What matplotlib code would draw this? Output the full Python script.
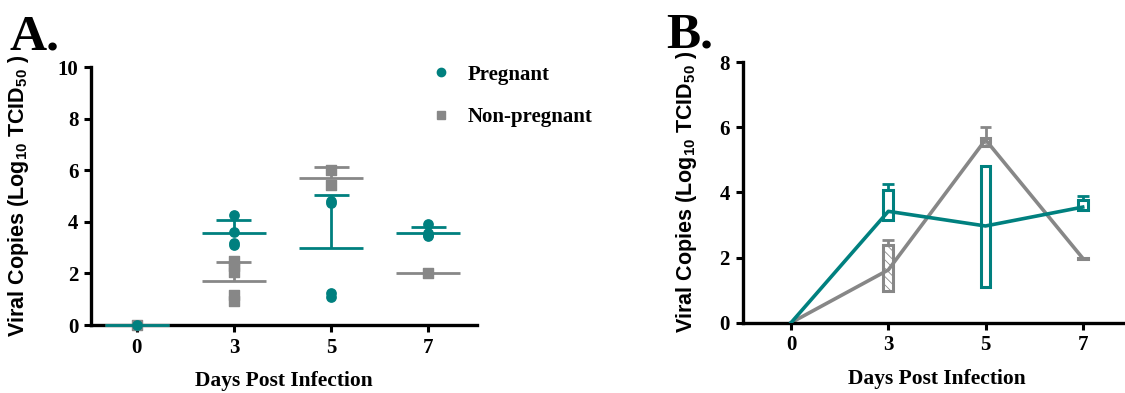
import numpy as np
import matplotlib.pyplot as plt
from matplotlib.lines import Line2D

# ======================================================
# DATI
# ======================================================
days = ["0", "3", "5", "7"]

# panel A - single animals (index of day, value)
preg_day = [0, 1, 1, 1, 1, 2, 2, 2, 2, 3, 3, 3, 3]
preg_val = [0, 4.25, 3.6, 3.2, 3.1, 4.8, 4.75, 1.25, 1.1, 3.9, 3.55, 3.5, 3.45]
nonp_day = [0, 1, 1, 1, 1, 1, 2, 2, 3]
nonp_val = [0, 2.5, 2.3, 2.05, 1.15, 0.95, 6.0, 5.45, 2.0]

# panel A - mean and upper SD
preg_mean = [0, 3.57, 2.97, 3.58]
preg_sd = [0, 0.50, 2.08, 0.22]
nonp_mean = [0, 1.70, 5.70, 2.00]
nonp_sd = [0, 0.73, 0.42, 0]

# panel B - mean line, box (low/high) and whisker top
preg_line = [0, 3.42, 2.97, 3.55]
preg_lo = [0, 3.15, 1.10, 3.46]
preg_hi = [0, 4.08, 4.82, 3.78]
preg_cap = [0, 4.26, 4.82, 3.88]
nonp_line = [0, 1.62, 5.62, 1.98]
nonp_lo = [0, 0.97, 5.42, 1.96]
nonp_hi = [0, 2.40, 5.66, 2.00]
nonp_cap = [0, 2.53, 6.00, 2.00]

TEAL = "#00807f"
GREY = "#878787"
SERIF = "Liberation Serif"
SANS = "Liberation Sans"

plt.rcParams["mathtext.default"] = "regular"
plt.rcParams["hatch.linewidth"] = 0.6

fig = plt.figure(figsize=(11.25, 3.93), dpi=100)
axA = fig.add_axes([0.0809, 0.173, 0.343, 0.656])
axB = fig.add_axes([0.660, 0.179, 0.3456, 0.6626])


def stile_assi(ax, ymax, ystep, ylab_x):
    x = np.arange(len(days))
    ax.set_xticks(x)
    ax.set_xticklabels(days)
    ax.set_yticks(np.arange(0, ymax + 0.1, ystep))
    ax.set_ylim(0, ymax)
    for s in ["top", "right"]:
        ax.spines[s].set_visible(False)
    for s in ["left", "bottom"]:
        ax.spines[s].set_linewidth(2.4)
    ax.tick_params(width=2.2, length=5, labelsize=15, pad=4)
    for lab in ax.get_xticklabels() + ax.get_yticklabels():
        lab.set_fontfamily(SERIF)
        lab.set_fontweight("bold")
    ax.set_xlabel("Days Post Infection", fontfamily=SERIF, fontweight="bold",
                  fontsize=15.5, labelpad=10)
    ax.set_ylabel("Viral Copies (Log$_{10}$ TCID$_{50}$ )", fontfamily=SANS,
                  fontweight="bold", fontsize=15.5)
    ax.yaxis.set_label_coords(ylab_x, 0.5)


# ======================================================
# PANNELLO A
# ======================================================
def media_sd(ax, mean, sd, color, z):
    for i, (m, s) in enumerate(zip(mean, sd)):
        ax.hlines(m, i - 0.33, i + 0.33, color=color, lw=2, zorder=z, clip_on=False)
        if s > 0:
            ax.vlines(i, m, m + s, color=color, lw=2, zorder=z)
            ax.hlines(m + s, i - 0.18, i + 0.18, color=color, lw=2, zorder=z)


media_sd(axA, nonp_mean, nonp_sd, GREY, 3)
axA.scatter(nonp_day, nonp_val, marker="s", s=45, color=GREY, zorder=3.2, clip_on=False)
media_sd(axA, preg_mean, preg_sd, TEAL, 3.4)
axA.scatter(preg_day, preg_val, marker="o", s=45, color=TEAL, zorder=3.6, clip_on=False)
axA.set_xlim(-0.47, 3.5)
stile_assi(axA, 10, 2, -0.155)

handles = [Line2D([], [], ls="", marker="o", ms=6, color=TEAL),
           Line2D([], [], ls="", marker="s", ms=6, color=GREY)]
axA.legend(handles, ["Pregnant", "Non-pregnant"], loc="upper left",
           bbox_to_anchor=(0.831, 1.083), frameon=False, handlelength=1,
           handletextpad=0.8, labelspacing=1.1,
           prop={"family": SERIF, "weight": "bold", "size": 15})

# ======================================================
# PANNELLO B
# ======================================================
x = np.arange(len(days))
axB.plot(x, nonp_line, color=GREY, lw=2.6, zorder=2)
axB.plot(x, preg_line, color=TEAL, lw=2.6, zorder=3)


def box(ax, lo, hi, cap, color, hatch=None):
    for i in range(1, len(lo)):
        h = max(hi[i] - lo[i], 0.02)
        ax.bar(i, h, bottom=lo[i], width=0.1, facecolor="white" if hatch else "none",
               edgecolor=color, lw=2.2, hatch=hatch, zorder=1)
        if cap[i] > hi[i]:
            ax.vlines(i, hi[i], cap[i], color=color, lw=2, zorder=1)
            ax.hlines(cap[i], i - 0.06, i + 0.06, color=color, lw=2, zorder=1)


box(axB, nonp_lo, nonp_hi, nonp_cap, GREY, hatch="\\\\\\\\")
box(axB, preg_lo, preg_hi, preg_cap, TEAL)
axB.set_xlim(-0.5, 3.5)
stile_assi(axB, 8, 2, -0.112)

fig.text(0.008, 0.875, "A.", fontfamily=SERIF, fontweight="bold", fontsize=37)
fig.text(0.592, 0.878, "B.", fontfamily=SERIF, fontweight="bold", fontsize=37)

fig.savefig("out.png", dpi=100)
